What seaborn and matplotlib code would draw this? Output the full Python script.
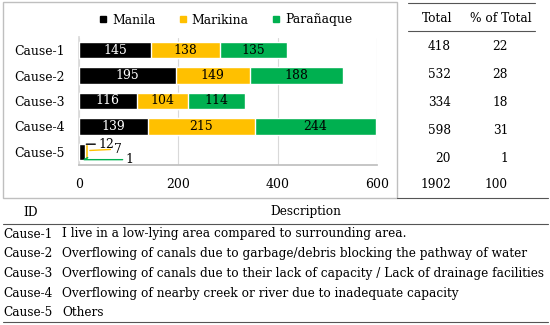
import matplotlib
matplotlib.use('Agg')
import matplotlib.pyplot as plt
import seaborn as sns
import pandas as pd
from matplotlib.lines import Line2D

causes = ['Cause-1', 'Cause-2', 'Cause-3', 'Cause-4', 'Cause-5']
manila = [145, 195, 116, 139, 12]
marikina = [138, 149, 104, 215, 7]
paranaque = [135, 188, 114, 244, 1]
pct_total = [22, 28, 18, 31, 1]
cities = ['Manila', 'Marikina', 'Parañaque']
colors = ['#000000', '#FFC000', '#00B050']
descriptions = [
    'I live in a low-lying area compared to surrounding area.',
    'Overflowing of canals due to garbage/debris blocking the pathway of water',
    'Overflowing of canals due to their lack of capacity / Lack of drainage facilities',
    'Overflowing of nearby creek or river due to inadequate capacity',
    'Others',
]

sns.set_theme(style='white')
plt.rcParams['font.family'] = ['DejaVu Serif']
plt.rcParams['text.color'] = 'black'
plt.rcParams['xtick.color'] = 'black'
plt.rcParams['ytick.color'] = 'black'
FS = 8.9   # chart text
TS = 8.7   # table text

df = pd.DataFrame({'Cause': causes, 'Manila': manila,
                   'Marikina': marikina, 'Paranaque': paranaque})
df['c1'] = df['Manila']
df['c2'] = df['c1'] + df['Marikina']
df['c3'] = df['c2'] + df['Paranaque']
totals = list(df['c3'])

fig = plt.figure(figsize=(5.5, 3.25), dpi=100)

# pixel-space layer for frames and tables
bg = fig.add_axes([0, 0, 1, 1])
bg.set_xlim(0, 550)
bg.set_ylim(325, 0)
bg.axis('off')

ax = fig.add_axes([79 / 550, 1 - 164.5 / 325, 298 / 550, 127 / 325])
for col, c in zip(['c3', 'c2', 'c1'], colors[::-1]):
    sns.barplot(data=df, x=col, y='Cause', color=c, width=0.65,
                saturation=1, errorbar=None, ax=ax, zorder=3)

ax.set_xlim(0, 600)
ax.set_xticks([0, 200, 400, 600])
ax.set_xlabel('')
ax.set_ylabel('')
ax.xaxis.grid(True, color='#d9d9d9', lw=0.8)
ax.set_axisbelow(True)
for s in ['top', 'right']:
    ax.spines[s].set_visible(False)
ax.spines['left'].set_color('#d9d9d9')
ax.spines['bottom'].set_color('#bfbfbf')
ax.tick_params(axis='y', length=0, pad=10, labelsize=FS)
ax.tick_params(axis='x', length=0, pad=10, labelsize=FS)

# segment labels
for i in range(4):
    starts = [0, df['c1'][i], df['c2'][i]]
    vals = [manila[i], marikina[i], paranaque[i]]
    for k in range(3):
        ax.text(starts[k] + vals[k] / 2, i, str(vals[k]), ha='center', va='center',
                fontsize=FS, color='white' if k == 0 else 'black', zorder=5)

# small bar with leader lines
i = 4
ax.annotate(str(manila[i]), xy=(df['c1'][i], i - 0.3), xytext=(15.5, 0),
            textcoords='offset points', ha='center', va='center', fontsize=FS,
            arrowprops=dict(arrowstyle='-', color='black', lw=1, shrinkA=0, shrinkB=1))
ax.annotate(str(marikina[i]), xy=(df['c2'][i], i - 0.05), xytext=(21, 1),
            textcoords='offset points', ha='center', va='center', fontsize=FS,
            arrowprops=dict(arrowstyle='-', color=colors[1], lw=1, shrinkA=0, shrinkB=1))
ax.annotate(str(paranaque[i]), xy=(df['c3'][i], i + 0.2), xytext=(29.5, -2),
            textcoords='offset points', ha='center', va='center', fontsize=FS,
            arrowprops=dict(arrowstyle='-', color=colors[2], lw=1, shrinkA=0, shrinkB=1,
                            connectionstyle='angle,angleA=0,angleB=30,rad=0'))

handles = [Line2D([], [], marker='s', ls='none', markersize=4.5, color=c) for c in colors]
fig.legend(handles, cities, loc='center left', bbox_to_anchor=(99 / 550, 1 - 20 / 325),
           ncol=3, frameon=False, fontsize=FS, handlelength=0.6, handletextpad=0.45,
           columnspacing=1.9, borderpad=0, borderaxespad=0)

# chart frame
bg.add_patch(plt.Rectangle((3, 2), 394, 196, fill=False, ec='#bfbfbf', lw=1))

# right table
line = dict(color='#555555', lw=0.8)
bg.plot([408, 535], [3, 3], **line)
bg.plot([408, 535], [31, 31], **line)
bg.text(437, 18, 'Total', ha='center', va='center', fontsize=TS)
bg.text(501, 18, '% of Total', ha='center', va='center', fontsize=TS)
row_y = [46, 75, 102, 130, 158]
for y, t, p in zip(row_y, totals, pct_total):
    bg.text(451, y, str(t), ha='right', va='center', fontsize=TS)
    bg.text(508, y, str(p), ha='right', va='center', fontsize=TS)
bg.text(451, 185, str(sum(totals)), ha='right', va='center', fontsize=TS)
bg.text(508, 185, str(sum(pct_total)), ha='right', va='center', fontsize=TS)

# bottom table
bg.plot([397, 548], [198, 198], **line)
bg.plot([3, 548], [224, 224], **line)
bg.plot([3, 548], [322, 322], **line)
bg.text(31, 212, 'ID', ha='center', va='center', fontsize=TS)
bg.text(306, 212, 'Description', ha='center', va='center', fontsize=TS)
for k, (c, d) in enumerate(zip(causes, descriptions)):
    y = 234 + k * 19.7
    bg.text(3, y, c, ha='left', va='center', fontsize=TS)
    bg.text(62, y, d, ha='left', va='center', fontsize=TS)

fig.savefig('out.png', dpi=100)
